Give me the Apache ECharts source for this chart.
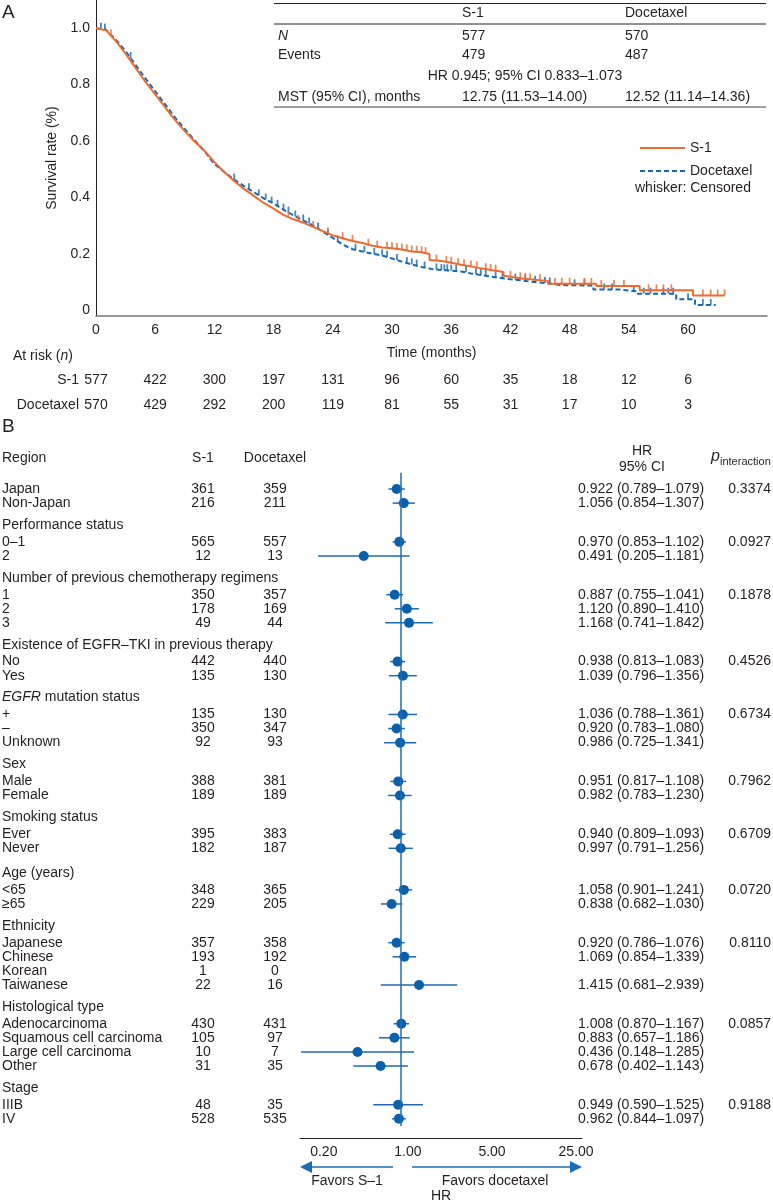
<!DOCTYPE html>
<html>
<head>
<meta charset="utf-8">
<script src="https://cdn.jsdelivr.net/npm/echarts@6/dist/echarts.min.js"></script>
<style>
html, body { margin: 0; padding: 0; background: #fff; }
#chart { width: 773px; height: 1202px; }
</style>
</head>
<body>
<div id="chart"></div>
<script>
// ---- A: Kaplan-Meier ----
const s1Time = [0,1,2,3,4,5,6,7,8,9,10,11,12,13,14,15,16,17,18,19,20,21,22,23,24,25,26,27,28,29,30,31,32,33,33.8,33.8,35,36,37,38,39,40,41,41.3,41.3,42,43,44,45,45.8,45.8,50.7,50.7,55.1,55.1,60.5,60.5,63.7];
const s1Surv = [1.0,0.993,0.955,0.91,0.86,0.81,0.765,0.72,0.675,0.635,0.598,0.565,0.525,0.49,0.458,0.43,0.405,0.38,0.36,0.338,0.322,0.31,0.295,0.28,0.265,0.255,0.245,0.238,0.228,0.222,0.219,0.215,0.208,0.205,0.199,0.178,0.174,0.168,0.161,0.155,0.148,0.142,0.137,0.135,0.122,0.118,0.113,0.109,0.106,0.104,0.093,0.093,0.085,0.085,0.070,0.070,0.052,0.052];
const docTime = [0,1,2,3,4,5,6,7,8,9,10,11,12,13,14,15,16,17,18,19,20,21,22,23,24,25,26,27,28,29,30,31,32,33,34,35,36,37,38,39,40,41,42,43,44,45,46,47,50.4,50.4,53.1,53.1,54.9,54.9,58.8,58.8,60.7,60.7,62.8];
const docSurv = [1.0,0.995,0.96,0.918,0.87,0.822,0.776,0.73,0.684,0.642,0.602,0.563,0.518,0.49,0.463,0.44,0.418,0.396,0.378,0.356,0.336,0.318,0.3,0.278,0.256,0.232,0.216,0.208,0.2,0.194,0.183,0.172,0.162,0.153,0.146,0.142,0.140,0.137,0.13,0.124,0.119,0.114,0.109,0.106,0.101,0.098,0.094,0.089,0.087,0.073,0.073,0.066,0.066,0.058,0.058,0.038,0.038,0.018,0.018];

// censored observations (whiskers)
const s1Censor = [[1.5,0.975],[19.5,0.33],[20.5,0.316],[22,0.295],[23.5,0.272],[25,0.255],[26,0.245],[27.6,0.232],[28.5,0.225],[29.5,0.221],[30,0.219],[30.5,0.217],[31,0.215],[31.5,0.212],[32,0.208],[32.5,0.207],[33,0.205],[33.4,0.202],[34.5,0.176],[35.5,0.171],[36,0.168],[36.7,0.163],[37.3,0.159],[38,0.155],[38.6,0.151],[39.5,0.145],[40,0.142],[40.5,0.140],[42,0.118],[43,0.113],[43.5,0.111],[44,0.109],[45,0.106],[46.5,0.093],[47.2,0.093],[48,0.093],[49.5,0.093],[50.2,0.093],[51.2,0.085],[52.5,0.085],[53.5,0.085],[56,0.070],[56.8,0.070],[57.5,0.070],[58.3,0.070],[61.5,0.052],[62.3,0.052],[63,0.052],[63.7,0.052]];
const docCensor = [[0.5,0.998],[0.9,0.995],[3.5,0.894],[14,0.463],[15.5,0.429],[16.5,0.407],[17.2,0.392],[17.8,0.381],[18.4,0.369],[19,0.356],[19.5,0.346],[20.2,0.332],[21,0.318],[21.6,0.307],[22.5,0.289],[23.5,0.267],[24.5,0.244],[26.3,0.214],[27.2,0.206],[28.2,0.199],[29,0.194],[29.5,0.189],[30.5,0.178],[31.5,0.167],[32,0.162],[32.5,0.158],[33.3,0.151],[34.5,0.144],[35,0.142],[35.3,0.141],[35.6,0.141],[36,0.140],[36.5,0.139],[37.5,0.134],[38.5,0.127],[39,0.124],[39.5,0.122],[40.5,0.117],[41.2,0.113],[42.5,0.108],[43.5,0.104],[44.5,0.100],[45.5,0.096],[46,0.094],[48.5,0.088],[49.5,0.088],[51.5,0.073],[52.3,0.073],[54.5,0.066],[55.5,0.058],[56.2,0.058],[57.5,0.058],[58,0.058],[58.5,0.058],[60,0.038],[61.5,0.018],[62.3,0.018]];

const atRiskTimes = [0,6,12,18,24,30,36,42,48,54,60];
const atRiskS1 = [577,422,300,197,131,96,60,35,18,12,6];
const atRiskDoc = [570,429,292,200,119,81,55,31,17,10,3];
const survTicks = [0,0.2,0.4,0.6,0.8,1.0];

const kmTableLabels = ['N', 'Events', 'MST (95% CI), months'];
const kmTableS1 = ['577', '479', '12.75 (11.53–14.00)'];
const kmTableDoc = ['570', '487', '12.52 (11.14–14.36)'];
const kmHrText = 'HR 0.945; 95% CI 0.833–1.073';

// ---- B: forest plot ----
const groupNames = ['Region','Performance status','Number of previous chemotherapy regimens','Existence of EGFR–TKI in previous therapy','EGFR mutation status','Sex','Smoking status','Age (years)','Ethnicity','Histological type','Stage'];
const groupSizes = [2,2,3,2,3,2,2,2,4,4,2];
const pInteraction = ['0.3374','0.0927','0.1878','0.4526','0.6734','0.7962','0.6709','0.0720','0.8110','0.0857','0.9188'];
const subgroups = ['Japan','Non-Japan','0–1','2','1','2','3','No','Yes','+','–','Unknown','Male','Female','Ever','Never','<65','≥65','Japanese','Chinese','Korean','Taiwanese','Adenocarcinoma','Squamous cell carcinoma','Large cell carcinoma','Other','IIIB','IV'];
const nS1 = [361,216,565,12,350,178,49,442,135,135,350,92,388,189,395,182,348,229,357,193,1,22,430,105,10,31,48,528];
const nDoc = [359,211,557,13,357,169,44,440,130,130,347,93,381,189,383,187,365,205,358,192,0,16,431,97,7,35,35,535];
const hr = [0.922,1.056,0.970,0.491,0.887,1.120,1.168,0.938,1.039,1.036,0.920,0.986,0.951,0.982,0.940,0.997,1.058,0.838,0.920,1.069,null,1.415,1.008,0.883,0.436,0.678,0.949,0.962];
const hrLo = [0.789,0.854,0.853,0.205,0.755,0.890,0.741,0.813,0.796,0.788,0.783,0.725,0.817,0.783,0.809,0.791,0.901,0.682,0.786,0.854,null,0.681,0.870,0.657,0.148,0.402,0.590,0.844];
const hrHi = [1.079,1.307,1.102,1.181,1.041,1.410,1.842,1.083,1.356,1.361,1.080,1.341,1.108,1.230,1.093,1.256,1.241,1.030,1.076,1.339,null,2.939,1.167,1.186,1.285,1.143,1.525,1.097];
const hrTicks = ['0.20','1.00','5.00','25.00'];

const FONT = "'Liberation Sans', Arial, Helvetica, sans-serif";
const TEXT = '#231f20';
const ORANGE = '#ee6a2f';
const BLUE = '#1767b1';
const FBLUE = '#0b60ab';

// row layout (in row units) for the forest plot
const rowPos = [];
const headerPos = [];
let pos = 0;
groupSizes.forEach(function (n, g) {
  if (g === 0) {
    headerPos.push(-2.2);
  } else {
    pos += (g === 7 ? 1.75 : 1.55); // a bit more room before "Age"
    headerPos.push(pos);
    pos += 1.2;
  }
  for (let k = 0; k < n; k++) {
    rowPos.push(pos);
    if (k < n - 1) pos += 1;
  }
});

const zip = (a, b) => a.map((v, i) => [v, b[i]]);

const ciData = [];
const pointData = [];
hr.forEach(function (v, i) {
  if (v == null) return;
  ciData.push([hrLo[i], hrHi[i], rowPos[i]]);
  pointData.push([v, rowPos[i]]);
});

const chart = echarts.init(document.getElementById('chart'));

const option = {
  animation: false,
  textStyle: { fontFamily: FONT, color: TEXT },
  grid: [
    { left: 96, top: 0, width: 671, height: 316 },
    { left: 300, top: 470, width: 282, height: 668 }
  ],
  legend: {
    data: ['S-1', 'Docetaxel'],
    orient: 'vertical',
    left: 634,
    top: 136,
    itemWidth: 45,
    itemHeight: 14,
    itemGap: 9,
    selectedMode: false,
    itemStyle: { opacity: 0 },
    textStyle: { fontSize: 14, color: TEXT, fontFamily: FONT }
  },
  xAxis: [
    {
      gridIndex: 0, type: 'value', min: 0, max: 68,
      name: 'Time (months)', nameLocation: 'middle', nameGap: 30,
      nameTextStyle: { fontSize: 14, color: TEXT, fontFamily: FONT },
      axisLine: { show: true, onZero: false, lineStyle: { color: '#777', width: 1.5 } },
      axisTick: { show: false },
      splitLine: { show: false },
      axisLabel: { customValues: atRiskTimes, fontSize: 14, color: TEXT, margin: 7 }
    },
    {
      gridIndex: 1, type: 'log', logBase: 5, min: 0.145, max: 32,
      axisLine: { show: true, onZero: false, lineStyle: { color: '#222', width: 1 } },
      axisTick: { show: false },
      splitLine: { show: false },
      minorTick: { show: false },
      axisLabel: {
        fontSize: 14, color: TEXT, margin: 7, padding: [0, 0, 0, 14],
        showMinLabel: false, showMaxLabel: false,
        formatter: function (v) {
          const s = Number(v).toFixed(2);
          return hrTicks.indexOf(s) >= 0 ? s : '';
        }
      }
    }
  ],
  yAxis: [
    {
      gridIndex: 0, type: 'value', min: -0.021, max: 1.1,
      name: 'Survival rate (%)', nameLocation: 'middle', nameGap: 36,
      nameTextStyle: { fontSize: 14, color: TEXT, fontFamily: FONT },
      axisLine: { show: true, onZero: false, lineStyle: { color: '#222', width: 1 } },
      axisTick: { show: false },
      splitLine: { show: false },
      axisLabel: {
        customValues: survTicks, fontSize: 14, color: TEXT, margin: 6,
        formatter: function (v) { return v === 0 ? '0' : Number(v).toFixed(1); }
      }
    },
    { gridIndex: 1, type: 'value', inverse: true, min: -1.35, max: 46.06, show: false }
  ],
  series: [
    {
      name: 'Docetaxel', type: 'line', xAxisIndex: 0, yAxisIndex: 0,
      data: zip(docTime, docSurv), symbol: 'none', showSymbol: false,
      lineStyle: { color: BLUE, width: 2, type: [5, 3] }, itemStyle: { color: BLUE }, z: 2
    },
    {
      name: 'Docetaxel censored', type: 'scatter', xAxisIndex: 0, yAxisIndex: 0,
      data: docCensor, symbol: 'rect', symbolSize: [1.8, 6], symbolOffset: [0, -3],
      itemStyle: { color: BLUE }, z: 2
    },
    {
      name: 'S-1', type: 'line', xAxisIndex: 0, yAxisIndex: 0,
      data: zip(s1Time, s1Surv), symbol: 'none', showSymbol: false,
      lineStyle: { color: ORANGE, width: 2 }, itemStyle: { color: ORANGE }, z: 3
    },
    {
      name: 'S-1 censored', type: 'scatter', xAxisIndex: 0, yAxisIndex: 0,
      data: s1Censor, symbol: 'rect', symbolSize: [1.8, 6], symbolOffset: [0, -3],
      itemStyle: { color: ORANGE }, z: 3
    },
    // 95% CI whiskers
    {
      name: 'CI', type: 'custom', xAxisIndex: 1, yAxisIndex: 1,
      data: ciData, encode: { x: [0, 1], y: 2 },
      renderItem: function (params, api) {
        const y = api.value(2);
        const a = api.coord([api.value(0), y]);
        const b = api.coord([api.value(1), y]);
        return {
          type: 'line',
          shape: { x1: a[0], y1: a[1], x2: b[0], y2: b[1] },
          style: { stroke: '#1f6ab2', lineWidth: 1.5 }
        };
      },
      z: 2
    },
    {
      name: 'HR', type: 'scatter', xAxisIndex: 1, yAxisIndex: 1,
      data: pointData, symbol: 'circle', symbolSize: 10,
      itemStyle: { color: FBLUE, opacity: 1 }, z: 4,
      markLine: {
        silent: true, symbol: 'none', label: { show: false },
        lineStyle: { color: '#1f6db4', width: 1.5, type: 'solid' },
        data: [[{ coord: [1, rowPos[0] - 1.15] }, { coord: [1, rowPos[rowPos.length - 1] + 0.5] }]]
      }
    }
  ]
};
chart.setOption(option);

// ---- text, tables and annotations ----
function txt(x, y, text, align, extra) {
  return {
    type: 'text', x: x, y: y, silent: true,
    style: Object.assign({
      text: text, fill: TEXT, fontSize: 14, fontFamily: FONT,
      align: align || 'left', verticalAlign: 'middle',
      textAlign: align || 'left', textVerticalAlign: 'middle'
    }, extra || {})
  };
}
function hline(x1, x2, y, color, w) {
  return { type: 'line', silent: true, shape: { x1: x1, y1: y, x2: x2, y2: y }, style: { stroke: color, lineWidth: w } };
}

const els = [];
els.push(txt(2, 13, 'A', 'left', { fontSize: 19 }));
els.push(txt(2, 427, 'B', 'left', { fontSize: 19 }));

// inset summary table
els.push(hline(274, 766, 3.5, '#222', 1));
els.push(hline(274, 766, 24, '#222', 1));
els.push(hline(274, 766, 107, '#808080', 1.5));
els.push(txt(462, 13, 'S-1'));
els.push(txt(625, 13, 'Docetaxel'));
const kmRowY = [36, 55, 97];
kmTableLabels.forEach(function (lab, i) {
  els.push(txt(278, kmRowY[i], lab, 'left', i === 0 ? { fontStyle: 'italic' } : {}));
  els.push(txt(462, kmRowY[i], kmTableS1[i]));
  els.push(txt(625, kmRowY[i], kmTableDoc[i]));
});
els.push(txt(525, 76, kmHrText, 'center'));
els.push(txt(635, 188, 'whisker: Censored'));

// numbers at risk
els.push({
  type: 'text', x: 13, y: 356, silent: true,
  style: {
    text: 'At risk ({i|n})', fill: TEXT, fontSize: 14, fontFamily: FONT,
    align: 'left', verticalAlign: 'middle', textAlign: 'left', textVerticalAlign: 'middle',
    rich: { i: { fontStyle: 'italic', fontSize: 14, fontFamily: FONT, fill: TEXT } }
  }
});
els.push(txt(79, 380, 'S-1', 'right'));
els.push(txt(79, 405, 'Docetaxel', 'right'));
atRiskTimes.forEach(function (t, i) {
  const x = chart.convertToPixel({ xAxisIndex: 0 }, t);
  els.push(txt(x, 380, String(atRiskS1[i]), 'center'));
  els.push(txt(x, 405, String(atRiskDoc[i]), 'center'));
});

// forest table
const fy = v => chart.convertToPixel({ yAxisIndex: 1 }, v);
const colS1 = 203, colDoc = 275, colHR = 578, colP = 771;
const headY = fy(headerPos[0]);
els.push(txt(colS1, headY, 'S-1', 'center'));
els.push(txt(colDoc, headY, 'Docetaxel', 'center'));
els.push(txt(642, headY - 7, 'HR', 'center'));
els.push(txt(642, headY + 9, '95% CI', 'center'));
els.push(txt(711, headY - 1, 'p', 'left', { fontStyle: 'italic', fontSize: 16 }));
els.push(txt(720, headY + 4, 'interaction', 'left', { fontSize: 11 }));

let r = 0;
groupNames.forEach(function (g, gi) {
  const y = fy(headerPos[gi]);
  if (g.indexOf('EGFR mutation') === 0) {
    els.push({
      type: 'text', x: 2, y: y, silent: true,
      style: {
        text: '{i|EGFR} mutation status', fill: TEXT, fontSize: 14, fontFamily: FONT,
        align: 'left', verticalAlign: 'middle', textAlign: 'left', textVerticalAlign: 'middle',
        rich: { i: { fontStyle: 'italic', fontSize: 14, fontFamily: FONT, fill: TEXT } }
      }
    });
  } else {
    els.push(txt(2, y, g));
  }
  for (let k = 0; k < groupSizes[gi]; k++, r++) {
    const ry = fy(rowPos[r]);
    els.push(txt(2, ry, subgroups[r]));
    els.push(txt(colS1, ry, String(nS1[r]), 'center'));
    els.push(txt(colDoc, ry, String(nDoc[r]), 'center'));
    if (hr[r] != null) {
      els.push(txt(colHR, ry, hr[r].toFixed(3) + ' (' + hrLo[r].toFixed(3) + '–' + hrHi[r].toFixed(3) + ')'));
    }
    if (k === 0) els.push(txt(colP, ry, pInteraction[gi], 'right'));
  }
});

// favours arrows under the HR axis
const arrowY = 1167;
els.push(hline(312, 393, arrowY, '#1a6db4', 1.5));
els.push({ type: 'polygon', silent: true, shape: { points: [[300, arrowY], [312, arrowY - 6], [312, arrowY + 6]] }, style: { fill: '#1a6db4' } });
els.push(hline(412, 570, arrowY, '#1a6db4', 1.5));
els.push({ type: 'polygon', silent: true, shape: { points: [[582, arrowY], [570, arrowY - 6], [570, arrowY + 6]] }, style: { fill: '#1a6db4' } });
els.push(txt(347, 1181, 'Favors S–1', 'center'));
els.push(txt(495, 1181, 'Favors docetaxel', 'center'));
els.push(txt(441, 1196, 'HR', 'center'));

chart.setOption({ graphic: { elements: els } });
</script>
</body>
</html>
